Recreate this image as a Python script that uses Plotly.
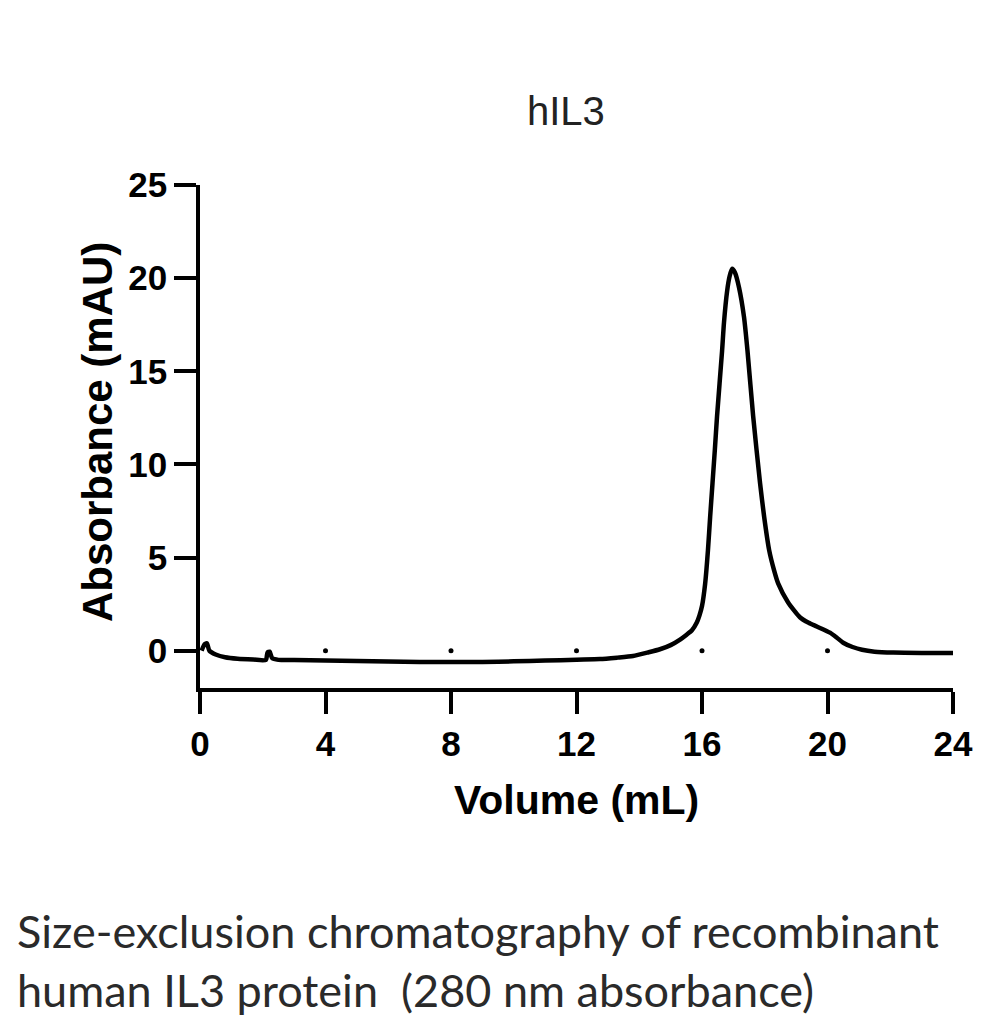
import plotly.graph_objects as go

# Chromatogram trace (Volume in mL, Absorbance in mAU)
volume = [0.05, 0.15, 0.22, 0.3, 0.5, 0.8, 1.2, 1.7, 2.1, 2.15, 2.22, 2.3, 2.5, 3.0, 4.0, 5.0,
          6.0, 7.0, 8.0, 9.0, 10.0, 11.0, 12.0, 12.75, 13.3, 13.8, 14.3, 14.66, 15.0, 15.3,
          15.5, 15.68, 15.83, 15.92, 16.0, 16.1, 16.19, 16.26, 16.41, 16.48, 16.64, 16.7,
          16.8, 16.88, 16.96, 17.05, 17.18, 17.34, 17.45, 17.63, 17.85, 17.98, 18.14, 18.3,
          18.43, 18.74, 19.12, 19.4, 19.66, 20.08, 20.3, 20.5, 20.8, 21.1, 21.5, 22.1, 23.0, 24.0]
absorbance = [0.0, 0.35, 0.4, 0.0, -0.2, -0.35, -0.43, -0.47, -0.49, -0.1, -0.05, -0.4, -0.49,
              -0.5, -0.52, -0.55, -0.58, -0.6, -0.61, -0.6, -0.57, -0.53, -0.48, -0.45, -0.37,
              -0.28, -0.08, 0.08, 0.3, 0.6, 0.85, 1.1, 1.5, 1.9, 2.4, 3.6, 5.4, 7.2, 10.8, 12.6,
              16.1, 17.6, 19.3, 20.1, 20.5, 20.3, 19.5, 17.9, 16.1, 12.6, 9.0, 7.2, 5.4, 4.3,
              3.6, 2.6, 1.8, 1.5, 1.3, 0.97, 0.7, 0.43, 0.2, 0.05, -0.05, -0.1, -0.12, -0.12]

# small reference dots along zero
dot_x = [4, 8, 12, 16, 20]
dot_y = [0, 0, 0, 0, 0]

x_ticks = [0, 4, 8, 12, 16, 20, 24]
y_ticks = [0, 5, 10, 15, 20, 25]

title_text = "hIL3"
x_title = "Volume (mL)"
y_title = "Absorbance (mAU)"
caption_lines = ["Size-exclusion chromatography of recombinant",
                 "human IL3 protein \u00a0(280 nm absorbance)"]

fig = go.Figure()
fig.add_trace(go.Scatter(x=volume, y=absorbance, mode="lines",
                         line=dict(color="black", width=4.5, shape="spline", smoothing=0.6),
                         showlegend=False, hoverinfo="skip"))
fig.add_trace(go.Scatter(x=dot_x, y=dot_y, mode="markers",
                         marker=dict(color="black", size=5),
                         showlegend=False, hoverinfo="skip"))

tick_font = dict(family="Liberation Sans, Arial, sans-serif", size=35, color="black", weight="bold")

fig.update_layout(
    width=987, height=1024,
    margin=dict(l=200, r=34, t=185, b=336),
    paper_bgcolor="white", plot_bgcolor="white",
    xaxis=dict(range=[0, 24], tickvals=x_ticks, ticks="outside", ticklen=22, tickwidth=3.5,
               tickcolor="black", showline=True, linewidth=3.5, linecolor="black",
               showgrid=False, zeroline=False, tickfont=tick_font),
    yaxis=dict(range=[-2, 25], tickvals=y_ticks, ticks="outside", ticklen=22, tickwidth=3.5,
               tickcolor="black", showline=True, linewidth=3.5, linecolor="black",
               showgrid=False, zeroline=False, tickfont=tick_font),
    annotations=[
        dict(text=title_text, x=0.486, y=1.147, xref="paper", yref="paper", showarrow=False,
             xanchor="center", yanchor="middle",
             font=dict(family="Liberation Sans, Arial, sans-serif", size=40, color="#222222")),
        dict(text=x_title, x=0.5, y=-0.2227, xref="paper", yref="paper", showarrow=False,
             xanchor="center", yanchor="middle",
             font=dict(family="Liberation Sans, Arial, sans-serif", size=41, color="black", weight="bold")),
        dict(text=y_title, x=-0.136, y=0.508, xref="paper", yref="paper", showarrow=False,
             xanchor="center", yanchor="middle", textangle=-90,
             font=dict(family="Liberation Sans, Arial, sans-serif", size=42, color="black", weight="bold")),
        dict(text="<br>".join(caption_lines), x=-0.2457, y=-0.5425, xref="paper", yref="paper",
             showarrow=False, xanchor="left", yanchor="middle", align="left",
             font=dict(family="Lato, sans-serif", size=45, color="#2a2a2a")),
    ],
)

fig.write_html("out.html")
